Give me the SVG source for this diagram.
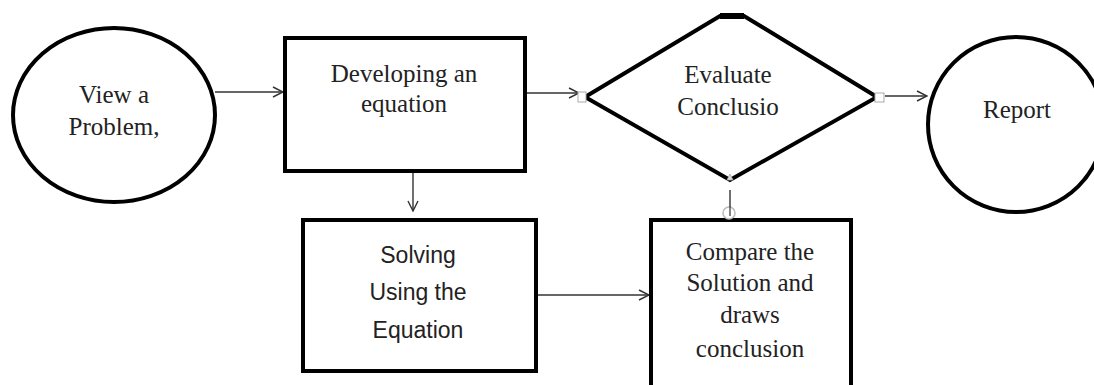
<svg xmlns="http://www.w3.org/2000/svg" width="1094" height="385" viewBox="0 0 1094 385">
<style>
.shape{fill:#fff;stroke:#000;stroke-width:4}
.serif{font-family:"Liberation Serif","Times New Roman",serif;font-size:25px;fill:#222;text-anchor:middle}
.sans{font-family:"Liberation Sans",Arial,sans-serif;font-size:23px;fill:#222;text-anchor:middle}
.conn{fill:none;stroke:#333;stroke-width:1.4}
.handle{fill:#fff;stroke:#aaa;stroke-width:1}
</style>
<defs>
<marker id="open" viewBox="0 0 12 12" refX="11" refY="6" markerWidth="12" markerHeight="12" markerUnits="userSpaceOnUse" orient="auto">
<path d="M1,1 L11,6 L1,11" fill="none" stroke="#333" stroke-width="1.4"/>
</marker>
</defs>
<rect width="1094" height="385" fill="#fff"/>
<g id="connectors">
<line class="conn" x1="215" y1="92" x2="283" y2="92" marker-end="url(#open)"/>
<line class="conn" x1="527" y1="93" x2="579" y2="93" marker-end="url(#open)"/>
<line class="conn" x1="885" y1="96" x2="927" y2="96" marker-end="url(#open)"/>
<line class="conn" x1="413" y1="173" x2="413" y2="211" marker-end="url(#open)"/>
<line class="conn" x1="538" y1="295" x2="649" y2="295" marker-end="url(#open)"/>
<line class="conn" x1="730" y1="190" x2="730" y2="207"/>
</g>
<g id="node-view">
<ellipse class="shape" cx="114" cy="115" rx="101" ry="87"/>
<text class="serif" x="114" y="103">View a</text>
<text class="serif" x="114" y="135">Problem,</text>
</g>
<g id="node-develop">
<rect class="shape" x="285" y="38" width="240" height="133"/>
<text class="serif" x="404" y="82">Developing an</text>
<text class="serif" x="404" y="112">equation</text>
</g>
<g id="node-evaluate">
<path class="shape" d="M585,97 L720,16 L744,16 L877,97 L730,180 Z" stroke-linejoin="miter"/>
<line x1="720" y1="16" x2="744" y2="16" stroke="#000" stroke-width="6"/>
<rect class="handle" x="578" y="92" width="8" height="10"/>
<rect class="handle" x="875" y="93" width="9" height="9"/>
<path d="M727,180 L730,174 L733,180 Z" fill="#ddd" stroke="#aaa" stroke-width="0.8"/>
<text class="serif" x="728" y="83">Evaluate</text>
<text class="serif" x="728" y="115">Conclusio</text>
</g>
<g id="node-report">
<ellipse class="shape" cx="1016" cy="124.5" rx="88" ry="87.5"/>
<text class="serif" x="1017" y="118">Report</text>
</g>
<g id="node-solving">
<rect class="shape" x="303" y="220" width="233" height="151"/>
<text class="sans" x="418" y="263">Solving</text>
<text class="sans" x="418" y="300">Using the</text>
<text class="sans" x="418" y="338">Equation</text>
</g>
<g id="node-compare">
<rect class="shape" x="651" y="220" width="200" height="175"/>
<circle cx="729" cy="213" r="6" fill="#fff" stroke="#bbb" stroke-width="1.5"/>
<line x1="730" y1="206" x2="730" y2="216" stroke="#333" stroke-width="1.2"/>
<text class="serif" x="750" y="260">Compare the</text>
<text class="serif" x="750" y="291">Solution and</text>
<text class="serif" x="750" y="323">draws</text>
<text class="serif" x="750" y="357">conclusion</text>
</g>
</svg>
